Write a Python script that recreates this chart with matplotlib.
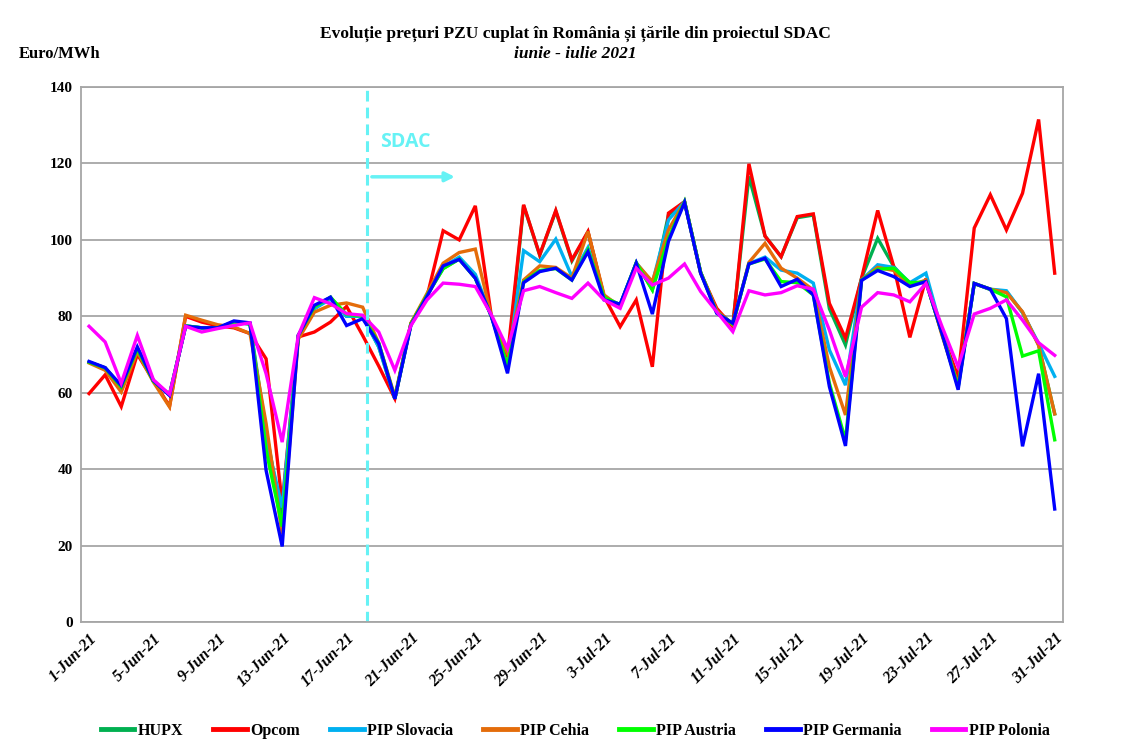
import matplotlib
matplotlib.use("Agg")
import matplotlib.pyplot as plt
import pandas as pd

dates = pd.date_range("2021-06-01", "2021-07-31", freq="D")
categories = [f"{d.day}-{d.strftime('%b')}-21" for d in dates]

hupx = [68, 66.5, 61.5, 71.5, 63, 59.5, 77.5, 77, 77, 78.5, 78, 50, 27, 75, 82, 85, 80, 80, 72, 58.5,
        78, 85.5, 92.5, 95, 90, 80, 67, 109, 96, 107.5, 94.5, 102, 85, 83, 94, 87, 106.5, 110, 91.5, 81.5,
        78, 116.6, 101, 95.6, 105.8, 106.5, 82, 72.5, 90, 100.4, 93, 88.5, 89, 75.5, 62, 88.6, 87, 86.5, 81, 72.5, 54.5]
opcom = [59.8, 64.7, 56.4, 70.1, 63.2, 56.5, 80, 78.5, 77.5, 77, 75.5, 68.9, 31, 74.6, 75.9, 78.5, 82.6, 75, 67, 58.5,
         78.2, 85.2, 102.4, 100, 108.9, 80, 69.5, 109.2, 96.1, 107.7, 94.8, 102.2, 85.2, 77.3, 84.3, 66.8, 107, 110, 91.3, 82.1,
         77.3, 119.9, 101, 95.6, 106.1, 106.8, 83.4, 74.3, 90, 107.7, 93, 74.5, 89.9, 75.5, 64.1, 103.1, 111.8, 102.6, 112.2, 131.5, 91.3]
slovacia = [68, 66.5, 61.5, 71.5, 63, 59.5, 77.5, 77, 77, 78.5, 78, 48, 30, 75, 82, 84.5, 80, 80, 72, 58.5,
            78, 85.5, 93, 95.5, 91, 80, 67, 97.2, 94.3, 100.2, 90.4, 98, 85, 83, 94, 88.7, 105.2, 110, 91.5, 81,
            78, 93.8, 95.5, 92.1, 91.3, 88.7, 71.2, 62, 89.5, 93.5, 92.8, 88.8, 91.3, 76, 61.5, 88.6, 87.1, 86.7, 81, 72.9, 64.3]
cehia = [67.8, 65.9, 60.2, 70.7, 62.8, 56.3, 80.3, 79, 77.8, 77.2, 75.5, 52, 23.1, 74, 81.1, 82.9, 83.5, 82.4, 73, 59,
         78.2, 86, 93.9, 96.7, 97.6, 80, 70.3, 89.5, 93.2, 92.8, 90, 102.2, 85.6, 82.5, 93.9, 89.1, 102.6, 110, 91.5, 81.5,
         77.7, 94.1, 99.1, 92.6, 90, 86.9, 66.8, 54.2, 89.5, 92.8, 92, 88, 89.5, 75, 62, 88.6, 87.1, 86.2, 81.2, 72.4, 54.5]
austria = [68, 66.5, 61.5, 71.5, 63, 59.5, 77.5, 77, 77, 78.5, 78, 45, 25, 75, 82.5, 85, 80.5, 80, 73, 58.5,
           78, 85.5, 92.5, 95, 90, 80, 67, 89, 92, 92.5, 89.5, 97.4, 85, 83, 94, 86.9, 100.4, 110, 91.5, 81,
           78, 93.7, 95, 89.1, 88.8, 85.6, 62.5, 47.6, 89.5, 92.3, 92.6, 88.8, 89, 75.5, 61.5, 88.6, 87.1, 85.1, 69.6, 71, 47.7]
germania = [68.2, 66.6, 61.9, 72, 63.2, 59.3, 77.4, 77, 77, 78.8, 78.3, 39.7, 19.8, 75, 82.9, 85, 77.6, 79.4, 72.8, 58.4,
            77.7, 85.2, 93.2, 94.9, 90, 80, 65.1, 88.8, 91.7, 92.6, 89.5, 96.9, 84.3, 83.2, 93.9, 80.6, 99.6, 109.8, 91.3, 80.8,
            78.2, 93.7, 95.2, 87.8, 89.7, 85.6, 61.6, 46.1, 89.4, 92, 90.4, 87.8, 89.1, 75.5, 60.8, 88.6, 87.1, 79.4, 46, 65, 29.6]
polonia = [77.4, 73.3, 62.5, 75, 63.4, 59.6, 77.4, 75.9, 76.8, 77.6, 78.3, 65, 47.1, 75, 84.9, 83.3, 80.7, 80.3, 75.9, 65.9,
           77.6, 84.3, 88.7, 88.4, 87.8, 80.4, 71.6, 86.7, 87.8, 86.2, 84.7, 88.7, 84.3, 82.1, 92.6, 88.2, 90, 93.7, 86.5, 81.2,
           76, 86.7, 85.6, 86.2, 88, 87.1, 76.4, 64.2, 82.4, 86.2, 85.6, 83.8, 88.6, 77.3, 66.8, 80.6, 82.1, 84.3, 79, 73.1, 69.8]

series_names = ["HUPX", "Opcom", "PIP Slovacia", "PIP Cehia", "PIP Austria", "PIP Germania", "PIP Polonia"]
series_values = [hupx, opcom, slovacia, cehia, austria, germania, polonia]
colors = ["#00B050", "#FF0000", "#00B0F0", "#E46C0A", "#00FF00", "#0000FF", "#FF00FF"]

serif = ["Liberation Serif", "DejaVu Serif"]

fig = plt.figure(figsize=(11.33, 7.46), dpi=100)
ax = fig.add_axes([0.0715, 0.166, 0.8665, 0.7174])

x = list(range(len(categories)))
for name, vals, c in zip(series_names, series_values, colors):
    ax.plot(x, vals, color=c, lw=2.4, label=name, solid_joinstyle="miter")

ax.set_xlim(-0.5, len(categories) - 0.5)
ax.set_ylim(0, 140)
ax.set_yticks(range(0, 141, 20))
ax.yaxis.grid(True, color="#A6A6A6", lw=1.3)
ax.set_axisbelow(True)
for sp in ax.spines.values():
    sp.set_color("#A6A6A6")
    sp.set_linewidth(1.3)
ax.tick_params(axis="both", length=0, pad=6)
for lab in ax.get_yticklabels():
    lab.set_fontfamily(serif)
    lab.set_fontweight("bold")
    lab.set_fontsize(11)

ticks = x[::4]
ax.set_xticks(ticks)
ax.set_xticklabels([categories[i] for i in ticks], rotation=45, ha="right",
                   rotation_mode="anchor", fontfamily=serif, fontweight="bold",
                   fontstyle="italic", fontsize=11.5)

# SDAC marker
sdac_x = 17.3
ax.axvline(sdac_x, color="#66F2F5", lw=2.2, ls=(0, (3.5, 2)))
ax.annotate("", xy=(sdac_x + 5.6, 116.5), xytext=(sdac_x + 0.1, 116.5),
            arrowprops=dict(arrowstyle="-|>", color="#66F2F5", lw=2.5, mutation_scale=14))
ax.text(sdac_x + 0.8, 125.5, "SDAC", color="#66F2F5", fontsize=14, fontweight="bold",
        fontfamily="Open Sans", va="center", ha="left")

fig.text(0.508, 0.955, "Evoluție prețuri PZU cuplat în România și țările din proiectul SDAC",
         ha="center", va="center", fontfamily=serif, fontweight="bold", fontsize=12.5)
fig.text(0.508, 0.928, "iunie - iulie 2021", ha="center", va="center", fontfamily=serif,
         fontweight="bold", fontstyle="italic", fontsize=12.5)
fig.text(0.017, 0.928, "Euro/MWh", ha="left", va="center", fontfamily=serif,
         fontweight="bold", fontsize=12)

leg = fig.legend(loc="center", bbox_to_anchor=(0.5075, 0.02), ncol=7, frameon=False,
                 handlelength=2.1, handletextpad=0.2, columnspacing=1.9,
                 prop=dict(family=serif, weight="bold", size=11.5))
for h in leg.get_lines():
    h.set_linewidth(3.5)

fig.savefig("out.png", dpi=100)
